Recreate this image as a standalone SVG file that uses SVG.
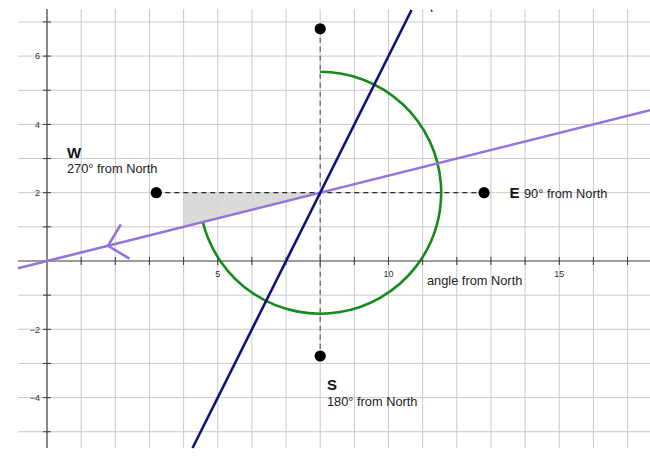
<svg xmlns="http://www.w3.org/2000/svg" width="650" height="456" viewBox="0 0 650 456">
<style>
.grid line{stroke:#c9c9c9;stroke-width:1}
.axis{stroke:#3a3a3a;stroke-width:1.2}
.tick{stroke:#3a3a3a;stroke-width:1}
.num{font-family:"Liberation Sans",Arial,sans-serif;font-size:9px;fill:#333}
.lbl{font-family:"Liberation Sans",Arial,sans-serif;font-size:12.8px;fill:#222}
.big{font-family:"Liberation Sans",Arial,sans-serif;font-size:15px;font-weight:bold;fill:#111}
.dot{fill:#000}
.dashv{stroke:#5a5a78;stroke-width:1.2;stroke-dasharray:5 4;fill:none}
.dashh{stroke:#2a2a3a;stroke-width:1.2;stroke-dasharray:5 4;fill:none}
.navy{stroke:#10107a;stroke-width:2.6;fill:none}
.purple{stroke:#9273d9;stroke-width:2.6;fill:none}
.green{stroke:#188a1c;stroke-width:2.6;fill:none}
</style>
<rect width="650" height="456" fill="#fff"/>
<g id="grid" class="grid">
<line x1="81.15" y1="9" x2="81.15" y2="448"/>
<line x1="115.3" y1="9" x2="115.3" y2="448"/>
<line x1="149.45" y1="9" x2="149.45" y2="448"/>
<line x1="183.6" y1="9" x2="183.6" y2="448"/>
<line x1="217.75" y1="9" x2="217.75" y2="448"/>
<line x1="251.9" y1="9" x2="251.9" y2="448"/>
<line x1="286.05" y1="9" x2="286.05" y2="448"/>
<line x1="320.2" y1="9" x2="320.2" y2="448"/>
<line x1="354.35" y1="9" x2="354.35" y2="448"/>
<line x1="388.5" y1="9" x2="388.5" y2="448"/>
<line x1="422.65" y1="9" x2="422.65" y2="448"/>
<line x1="456.8" y1="9" x2="456.8" y2="448"/>
<line x1="490.95" y1="9" x2="490.95" y2="448"/>
<line x1="525.1" y1="9" x2="525.1" y2="448"/>
<line x1="559.25" y1="9" x2="559.25" y2="448"/>
<line x1="593.4" y1="9" x2="593.4" y2="448"/>
<line x1="627.55" y1="9" x2="627.55" y2="448"/>
<line x1="18" y1="21.95" x2="650" y2="21.95"/>
<line x1="18" y1="56.1" x2="650" y2="56.1"/>
<line x1="18" y1="90.25" x2="650" y2="90.25"/>
<line x1="18" y1="124.4" x2="650" y2="124.4"/>
<line x1="18" y1="158.55" x2="650" y2="158.55"/>
<line x1="18" y1="192.7" x2="650" y2="192.7"/>
<line x1="18" y1="226.85" x2="650" y2="226.85"/>
<line x1="18" y1="295.15" x2="650" y2="295.15"/>
<line x1="18" y1="329.3" x2="650" y2="329.3"/>
<line x1="18" y1="363.45" x2="650" y2="363.45"/>
<line x1="18" y1="397.6" x2="650" y2="397.6"/>
<line x1="18" y1="431.75" x2="650" y2="431.75"/>
</g>
<g id="axes">
<line class="axis" x1="18" y1="261" x2="650" y2="261"/>
<line class="axis" x1="47" y1="9" x2="47" y2="448"/>
<path class="tick" d="M43 21.95H51M43 56.1H51M43 90.25H51M43 124.4H51M43 158.55H51M43 192.7H51M43 226.85H51M43 295.15H51M43 329.3H51M43 363.45H51M43 397.6H51M43 431.75H51"/>
<path class="tick" d="M81.15 257V265M115.3 257V265M149.45 257V265M183.6 257V265M217.75 257V265M251.9 257V265M286.05 257V265M320.2 257V265M354.35 257V265M388.5 257V265M422.65 257V265M456.8 257V265M490.95 257V265M525.1 257V265M559.25 257V265M593.4 257V265M627.55 257V265"/>
<g class="num" text-anchor="end">
<text x="40" y="59.3">6</text>
<text x="40" y="127.6">4</text>
<text x="40" y="195.9">2</text>
<text x="40" y="332.5">−2</text>
<text x="40" y="400.8">−4</text>
</g>
<g class="num" text-anchor="middle">
<text x="217.75" y="277">5</text>
<text x="388.5" y="277">10</text>
<text x="559.25" y="277">15</text>
</g>
</g>
<polygon id="shade" points="183.6,192.7 183.6,226.85 320.2,192.7" fill="#d6d6d6" opacity="0.9"/>
<g id="connectors">
<line class="dashv" x1="320.2" y1="28.8" x2="320.2" y2="356"/>
<line class="dashh" x1="156.3" y1="192.7" x2="484.1" y2="192.7"/>
<path class="green" d="M320.2 71.7A121 121 0 1 1 202.8 222.05"/>
<line class="purple" x1="18" y1="268.25" x2="650" y2="110.25"/>
<path class="purple" d="M120.9 224.3L108 245.75L129.4 258.6" stroke-linejoin="miter"/>
<line class="navy" x1="411.55" y1="10" x2="192.55" y2="448"/>
<line x1="431.3" y1="9.8" x2="432.2" y2="11.6" stroke="#111" stroke-width="1.3"/>
</g>
<g id="node-N"><circle class="dot" cx="320.2" cy="28.8" r="5.6"/></g>
<g id="node-S"><circle class="dot" cx="320.2" cy="356" r="5.6"/>
<text class="big" x="327" y="390">S</text>
<text class="lbl" x="327" y="405.5">180° from North</text></g>
<g id="node-W"><circle class="dot" cx="156.3" cy="192.7" r="5.6"/>
<text class="big" x="67" y="157.7">W</text>
<text class="lbl" x="67" y="172.7">270° from North</text></g>
<g id="node-E"><circle class="dot" cx="484.1" cy="192.7" r="5.6"/>
<text class="big" x="509.5" y="197.5">E</text>
<text class="lbl" x="524" y="197.5">90° from North</text></g>
<g id="angle-label"><text class="lbl" x="427" y="284.5">angle from North</text></g>
</svg>
